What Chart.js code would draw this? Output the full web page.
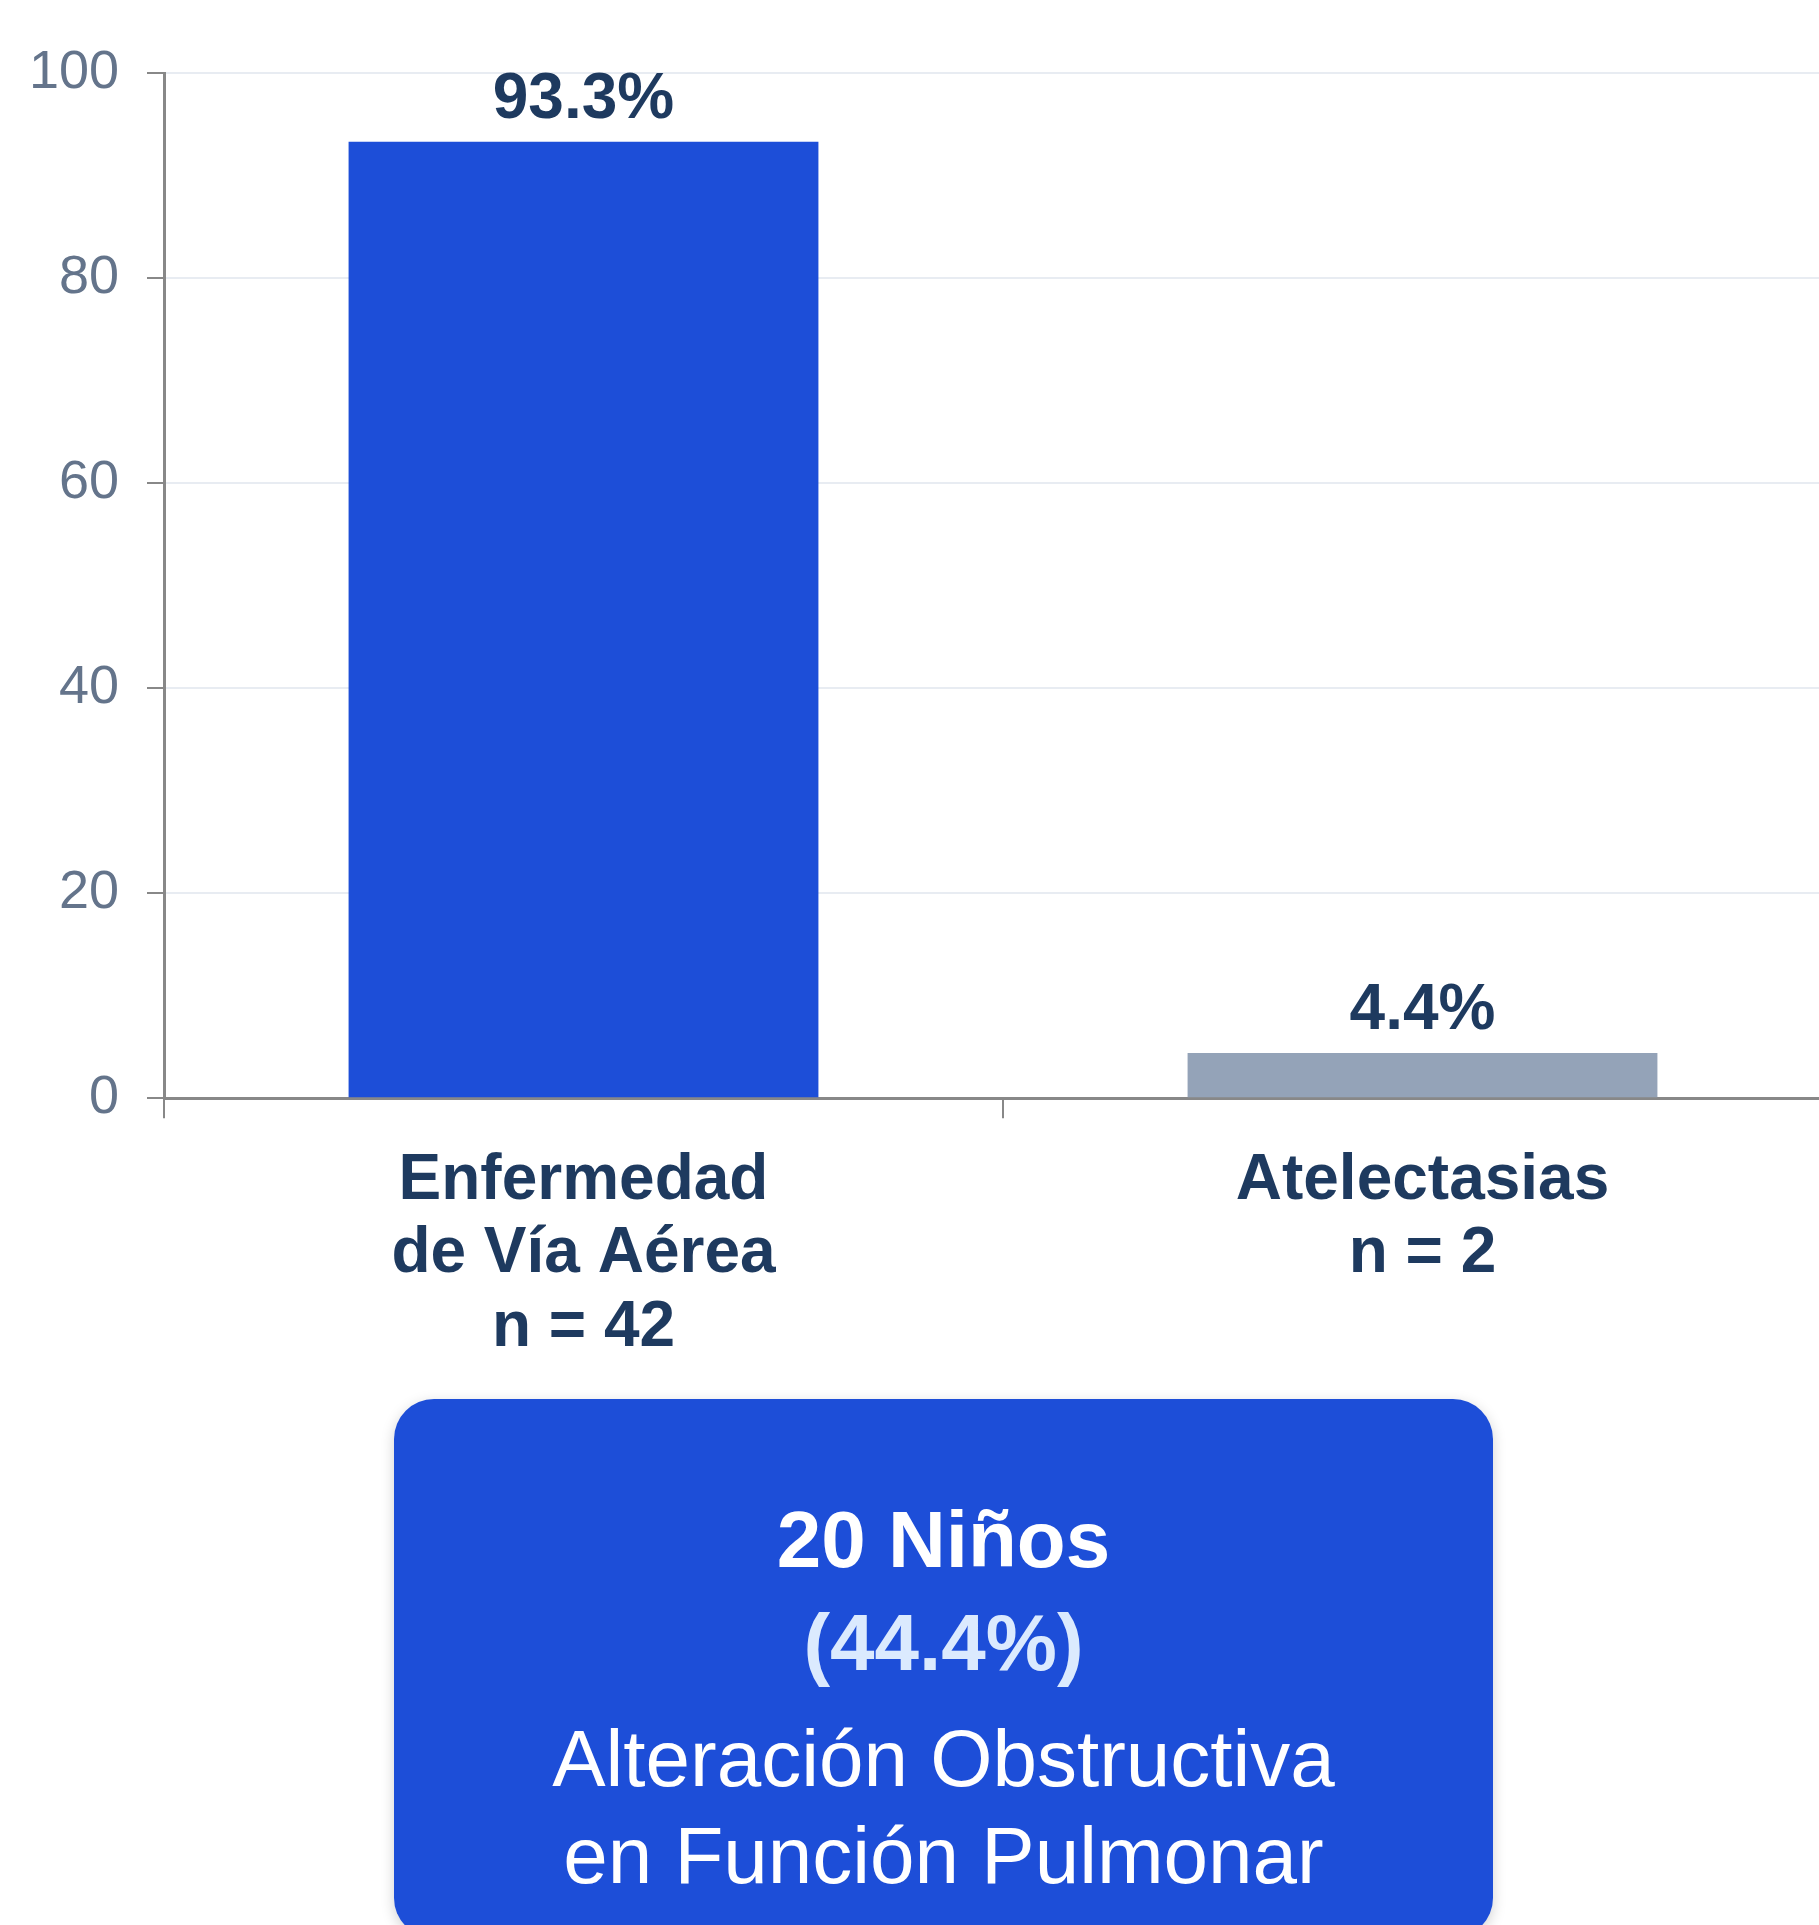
<!DOCTYPE html>
<html>
<head>
<meta charset="utf-8">
<script src="https://cdn.jsdelivr.net/npm/chart.js@4.4.1/dist/chart.umd.min.js"></script>
<style>
  html, body { margin: 0; padding: 0; background: #fff; overflow: hidden; width: 1819px; height: 1925px; }
  body { position: relative; font-family: "Liberation Sans", Arial, sans-serif; }
  #wrap { position: absolute; left: 0; top: 0; width: 1850px; height: 1391px; }
  #box {
    position: absolute; left: 394px; top: 1399px; width: 1099px; height: 539px;
    background: #1d4ed8; border-radius: 40px; box-shadow: 0 4px 14px rgba(0,0,0,0.18);
    text-align: center; color: #fff;
  }
  #box .big { font-size: 80px; font-weight: bold; line-height: 103px; }
  #box .l1 { margin-top: 89px; }
  #box .pct { color: #dbeafe; }
  #box .txt { font-size: 80px; line-height: 96.5px; }
  #box .l3 { margin-top: 17px; }
</style>
</head>
<body>
<div id="wrap"><canvas id="cnv" width="1850" height="1391"></canvas></div>
<div id="box">
  <div class="big l1">20 Niños</div>
  <div class="big pct">(44.4%)</div>
  <div class="txt l3">Alteración Obstructiva</div>
  <div class="txt">en Función Pulmonar</div>
</div>
<script>
// ---- data ----
const categories = [
  ['Enfermedad', 'de Vía Aérea', 'n = 42'],
  ['Atelectasias', 'n = 2']
];
const percents = [93.3, 4.4];
const barColors = ['#1d4ed8', '#94a3b8'];
const yTicks = [0, 20, 40, 60, 80, 100];

const FONT = '"Liberation Sans", Arial, sans-serif';
const NAVY = '#1e3a5f';

// ---- value labels above bars ----
const valueLabels = {
  id: 'valueLabels',
  afterDatasetsDraw(chart) {
    const ctx = chart.ctx;
    const meta = chart.getDatasetMeta(0);
    ctx.save();
    ctx.font = 'bold 64px ' + FONT;
    ctx.fillStyle = NAVY;
    ctx.textAlign = 'center';
    ctx.textBaseline = 'alphabetic';
    meta.data.forEach((bar, i) => {
      ctx.fillText(percents[i].toFixed(1) + '%', bar.x, bar.y - 24);
    });
    ctx.restore();
  }
};

new Chart('cnv', {
  type: 'bar',
  data: {
    labels: categories,
    datasets: [{
      data: percents,
      backgroundColor: barColors,
      borderWidth: 0,
      barPercentage: 0.7,
      categoryPercentage: 0.8
    }]
  },
  options: {
    responsive: false,
    animation: false,
    devicePixelRatio: 1,
    layout: { padding: { top: 73, right: 8, left: 0, bottom: 0 } },
    plugins: { legend: { display: false }, tooltip: { enabled: false } },
    scales: {
      y: {
        min: 0, max: 100,
        afterBuildTicks: s => { s.ticks = yTicks.map(v => ({ value: v })); },
        afterFit: s => { s.width = 164; },
        border: { color: '#888', width: 3 },
        grid: { color: '#e8ecf2', lineWidth: 2, tickColor: '#888', tickLength: 17 },
        ticks: { font: { family: FONT, size: 54 }, color: '#64748b', padding: 28 }
      },
      x: {
        border: { color: '#888', width: 3 },
        grid: { drawOnChartArea: false, tickColor: '#888', tickLength: 20, lineWidth: 2 },
        ticks: { font: { family: FONT, size: 64, weight: 'bold', lineHeight: 1.15 }, color: NAVY, padding: 26 }
      }
    }
  },
  plugins: [valueLabels]
});
</script>
</body>
</html>
